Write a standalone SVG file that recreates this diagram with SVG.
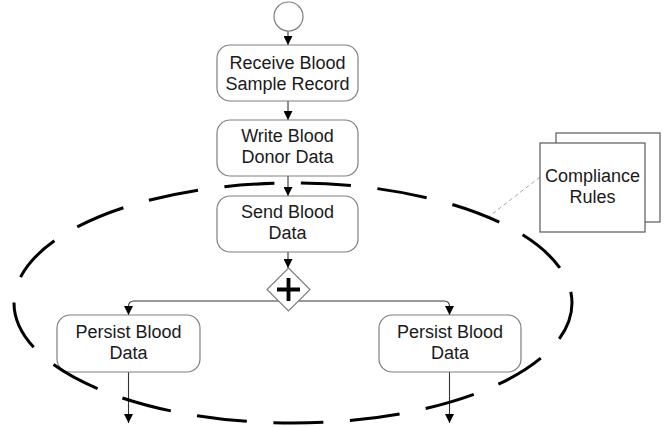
<svg xmlns="http://www.w3.org/2000/svg" width="666" height="427" viewBox="0 0 666 427">
  <style>
    .box { fill: #ffffff; stroke: #7f7f7f; stroke-width: 1.2; }
    .lbl { font-family: "Liberation Sans", Arial, sans-serif; font-size: 18px; fill: #1a1a1a; text-anchor: middle; }
    .flow { fill: none; stroke: #333333; stroke-width: 1.1; marker-end: url(#arrow); }
    .assoc { fill: none; stroke: #a6a6a6; stroke-width: 1; stroke-dasharray: 4 3; }
    .group { fill: none; stroke: #000000; stroke-width: 3; stroke-dasharray: 49 26; stroke-dashoffset: 11; }
  </style>
  <defs>
    <marker id="arrow" viewBox="0 0 10 10" refX="10" refY="5" markerWidth="9" markerHeight="9" markerUnits="userSpaceOnUse" orient="auto">
      <path d="M0,0 L10,5 L0,10 z" fill="#000000"/>
    </marker>
  </defs>

  <!-- sequence flows -->
  <g id="connectors">
    <path class="flow" d="M288 31 V45"/>
    <path class="flow" d="M288 101 V120"/>
    <path class="flow" d="M288 176 V196"/>
    <path class="flow" d="M288 252 V268"/>
    <path class="flow" d="M288 301 H134 Q128.5 301 128.5 306.5 V315"/>
    <path class="flow" d="M288 301 H444 Q449.5 301 449.5 306.5 V315"/>
    <path class="flow" d="M128.5 372 V423"/>
    <path class="flow" d="M449.5 372 V423"/>
    <path class="assoc" d="M540 177 L487 218"/>
  </g>

  <g id="start">
    <circle cx="288.5" cy="16.5" r="14.5" fill="#ffffff" stroke="#7f7f7f" stroke-width="1.2"/>
  </g>

  <g id="receive">
    <rect class="box" x="217" y="45" width="141" height="56" rx="13"/>
    <text class="lbl" x="287.5" y="69">Receive Blood</text>
    <text class="lbl" x="287.5" y="90">Sample Record</text>
  </g>

  <g id="write">
    <rect class="box" x="217" y="120" width="141" height="56" rx="13"/>
    <text class="lbl" x="287.5" y="141.5">Write Blood</text>
    <text class="lbl" x="287.5" y="162.5">Donor Data</text>
  </g>

  <g id="send">
    <rect class="box" x="217" y="196" width="141" height="56" rx="13"/>
    <text class="lbl" x="287.5" y="218">Send Blood</text>
    <text class="lbl" x="287.5" y="239">Data</text>
  </g>

  <g id="split">
    <path d="M288.5 268 L310 289.5 L288.5 311 L267 289.5 Z" fill="#ffffff" stroke="#7f7f7f" stroke-width="1.2"/>
    <path d="M277 289.5 H300 M288.5 278 V301" stroke="#000000" stroke-width="3.8" fill="none"/>
  </g>

  <g id="persist-left">
    <rect class="box" x="57" y="315" width="143" height="57" rx="13"/>
    <text class="lbl" x="128.5" y="338">Persist Blood</text>
    <text class="lbl" x="128.5" y="359">Data</text>
  </g>

  <g id="persist-right">
    <rect class="box" x="379" y="315" width="142" height="57" rx="13"/>
    <text class="lbl" x="450" y="338">Persist Blood</text>
    <text class="lbl" x="450" y="359">Data</text>
  </g>

  <g id="compliance">
    <rect x="556" y="133" width="104" height="89" fill="#ffffff" stroke="#595959" stroke-width="1.2"/>
    <rect x="540" y="143" width="105" height="89" fill="#ffffff" stroke="#595959" stroke-width="1.2"/>
    <text class="lbl" x="592.5" y="182">Compliance</text>
    <text class="lbl" x="592.5" y="203">Rules</text>
  </g>

  <!-- dashed group boundary -->
  <g id="boundary">
    <path class="group" pathLength="1275" d="M572 303 A279 120 0 0 1 14 303 A279 120 0 0 1 572 303 Z"/>
  </g>
</svg>
